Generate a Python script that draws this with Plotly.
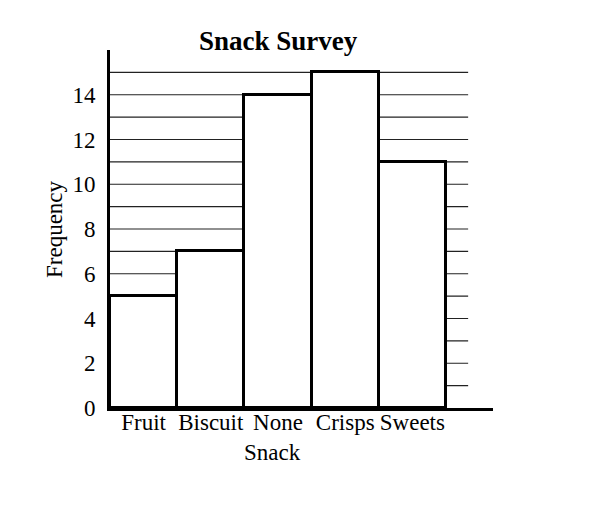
import plotly.graph_objects as go

categories = ["Fruit", "Biscuit", "None", "Crisps", "Sweets"]
frequency = [5, 7, 14, 15, 11]
y_ticks = [0, 2, 4, 6, 8, 10, 12, 14]
grid_levels = list(range(1, 16))

FONT = "Liberation Serif"
L, R, T, B = 110, 120, 50, 111
W, H = 613, 519
pw = W - L - R

def px_to_paper_x(px):
    return (px - L) / pw

xpos = list(range(len(categories)))

fig = go.Figure()
fig.add_trace(go.Bar(
    x=xpos, y=frequency, width=1.0,
    marker=dict(color="white", line=dict(color="black", width=3)),
    hoverinfo="skip",
))

shapes = []
for g in grid_levels:
    shapes.append(dict(type="line", xref="x", yref="y", x0=-0.5, x1=4.83, y0=g, y1=g,
                       line=dict(color="#222222", width=1.2), layer="below"))

fig.update_layout(
    width=W, height=H,
    margin=dict(l=L, r=R, t=T, b=B),
    plot_bgcolor="white", paper_bgcolor="white",
    showlegend=False,
    bargap=0,
    shapes=shapes,
    font=dict(family=FONT, color="black", size=23),
    xaxis=dict(range=[-0.5, 5.2], tickvals=xpos, ticktext=categories,
               showgrid=False, zeroline=False, showline=True, linecolor="black",
               linewidth=3, ticks="", ticklabelstandoff=-9,
               tickfont=dict(family=FONT, size=23, color="black")),
    yaxis=dict(range=[0, 16], tickvals=y_ticks, showgrid=False, zeroline=False,
               showline=True, linecolor="black", linewidth=3, ticks="",
               ticklabelstandoff=7,
               tickfont=dict(family=FONT, size=23, color="black")),
    annotations=[
        dict(text="<b>Snack Survey</b>", xref="paper", yref="paper",
             x=px_to_paper_x(278), y=1, xanchor="center", yanchor="bottom", yshift=-8,
             showarrow=False, font=dict(family=FONT, size=27, color="black")),
        dict(text="Snack", xref="paper", yref="paper",
             x=px_to_paper_x(272), y=0, xanchor="center", yanchor="top", yshift=-30,
             showarrow=False, font=dict(family=FONT, size=23, color="black")),
        dict(text="Frequency", xref="paper", yref="paper",
             x=px_to_paper_x(54), y=0.5, xanchor="center", yanchor="middle", textangle=-90,
             showarrow=False, font=dict(family=FONT, size=23, color="black")),
    ],
)

fig.write_html("out.html")
